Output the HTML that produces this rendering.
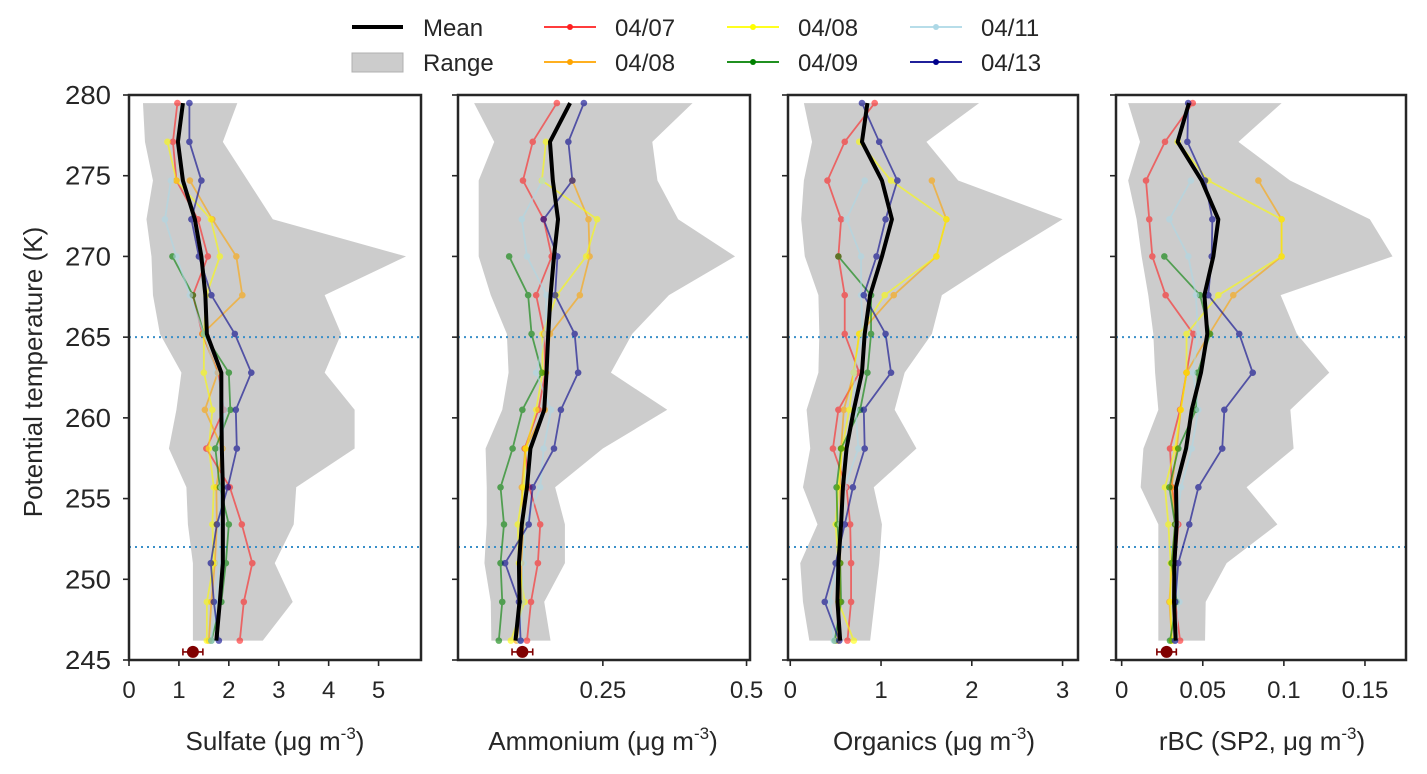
<!DOCTYPE html>
<html><head><meta charset="utf-8"><style>
html,body{margin:0;padding:0;background:#fff;}
svg{display:block;font-family:"Liberation Sans",sans-serif;}
</style></head><body>
<svg id="chart" width="1427" height="774" viewBox="0 0 1427 774" xmlns="http://www.w3.org/2000/svg">
<g id="legend">
  <g><line x1="352" y1="27" x2="403" y2="27" stroke="#000" stroke-width="4"/><text x="423" y="36" font-size="24" fill="#262626">Mean</text></g>
  <g><rect x="352" y="53" width="51" height="19" fill="#ccc" stroke="#b0b0b0"/><text x="423" y="71" font-size="24" fill="#262626">Range</text></g>
</g>
<g id="panels"></g>
</svg>
<script>
const theta = [279.5,277.1,274.7,272.3,270.0,267.6,265.2,262.8,260.5,258.1,255.7,253.4,251.0,248.6,246.2];
const seriesNames = ["04/07","04/08","04/08","04/09","04/11","04/13"];
const seriesColors = ["#ff2020","#ffa500","#ffff00","#008000","#add8e6","#00008b"];

const sulfateRed = [0.97,0.88,0.95,1.38,1.58,1.28,1.47,1.78,1.90,1.55,2.02,2.26,2.47,2.30,2.22];
const sulfateOrange = [null,null,1.22,1.67,2.15,2.27,1.47,1.78,1.52,1.87,1.75,1.76,1.72,1.65,1.60];
const sulfateYellow = [null,0.77,0.95,1.64,1.82,1.55,1.50,1.50,1.67,1.60,1.70,1.67,1.70,1.56,1.56];
const sulfateGreen = [null,null,null,null,0.87,1.28,1.50,2.00,2.03,1.73,1.82,2.00,1.94,1.85,1.65];
const sulfateLightblue = [null,null,0.84,0.72,0.95,1.22,1.50,1.75,1.92,1.85,1.85,1.80,1.80,1.75,1.65];
const sulfateNavy = [1.21,1.21,1.45,1.25,1.40,1.65,2.12,2.45,2.14,2.16,1.98,1.76,1.64,1.70,1.80];
const sulfateMean = [1.08,0.98,1.08,1.32,1.45,1.53,1.56,1.85,1.85,1.86,1.88,1.88,1.88,1.82,1.75];
const sulfateMin = [0.28,0.32,0.48,0.35,0.45,0.48,0.62,1.05,0.95,0.80,1.15,1.18,1.28,1.28,1.28];
const sulfateMax = [2.17,1.88,2.38,2.88,5.55,3.92,4.25,3.92,4.52,4.52,3.35,3.30,2.92,3.28,2.68];
const sulfateRef = [1.28,0.2];

const ammRed = [0.170,0.128,0.111,0.147,0.161,0.134,0.148,0.150,0.138,0.114,0.122,0.141,0.137,0.125,0.118];
const ammOrange = [null,null,0.197,0.225,0.227,0.210,0.158,0.151,0.149,0.115,0.109,0.112,0.108,0.110,0.100];
const ammYellow = [null,0.151,0.144,0.240,0.221,0.170,0.145,0.145,0.134,0.116,0.112,0.102,0.104,0.114,0.090];
const ammGreen = [null,null,null,null,0.087,0.120,0.126,0.144,0.110,0.093,0.072,0.078,0.072,0.075,0.069];
const ammLightblue = [null,null,0.145,0.109,0.118,0.152,0.150,0.134,0.160,0.147,0.141,0.115,0.112,0.110,0.105];
const ammNavy = [0.217,0.190,0.197,0.147,0.171,0.167,0.201,0.207,0.177,0.165,0.128,0.121,0.080,0.104,0.107];
const ammMean = [0.193,0.158,0.163,0.172,0.165,0.159,0.155,0.152,0.148,0.124,0.118,0.109,0.104,0.105,0.098];
const ammMin = [0.026,0.061,0.034,0.034,0.034,0.055,0.083,0.086,0.075,0.046,0.048,0.048,0.044,0.055,0.056];
const ammMax = [0.406,0.336,0.345,0.381,0.480,0.365,0.301,0.264,0.362,0.250,0.167,0.184,0.184,0.148,0.159];
const ammRef = [0.110,0.018];

const orgRed = [0.93,0.60,0.41,0.56,0.53,0.60,0.60,0.76,0.53,0.47,0.62,0.66,0.67,0.67,0.63];
const orgOrange = [null,null,1.56,1.72,1.61,1.14,0.76,0.70,0.59,0.56,0.55,0.55,0.55,0.55,0.52];
const orgYellow = [null,0.76,1.11,1.72,1.61,1.04,0.76,0.70,0.65,0.57,0.53,0.50,0.53,0.53,0.70];
const orgGreen = [null,null,null,null,0.53,0.89,0.89,0.85,0.77,0.56,0.51,0.52,0.55,0.56,0.49];
const orgLightblue = [null,null,0.82,0.62,0.78,0.78,0.80,0.70,0.72,0.75,0.60,0.55,0.52,0.44,0.48];
const orgNavy = [0.79,0.98,1.18,1.05,0.95,0.81,1.05,1.11,0.81,0.82,0.69,0.60,0.50,0.38,0.54];
const orgMean = [0.85,0.79,1.01,1.12,1.01,0.88,0.82,0.79,0.70,0.62,0.58,0.56,0.53,0.52,0.55];
const orgMin = [0.15,0.24,0.15,0.12,0.16,0.31,0.32,0.31,0.18,0.22,0.14,0.30,0.11,0.14,0.21];
const orgMax = [2.08,1.50,1.85,3.00,2.33,1.67,1.56,1.26,1.15,1.39,0.92,1.01,0.98,0.93,0.88];

const bcRed = [0.0438,0.0267,0.015,0.017,0.0189,0.0271,0.0442,0.040,0.036,0.0298,0.031,0.0349,0.033,0.033,0.036];
const bcOrange = [null,null,0.0843,0.0986,0.0986,0.0688,0.054,0.040,0.0364,0.034,0.0308,0.033,0.031,0.0294,0.031];
const bcYellow = [null,0.0345,0.0534,0.0986,0.0986,0.0596,0.040,0.040,0.0364,0.033,0.0267,0.0288,0.0302,0.030,0.031];
const bcGreen = [null,null,null,null,0.0263,0.0483,0.0545,0.0469,0.0458,0.0349,0.0294,0.0329,0.0308,0.0339,0.0298];
const bcLightblue = [null,null,0.0427,0.0294,0.0411,0.0458,0.047,0.044,0.0473,0.0432,0.0366,0.034,0.033,0.0356,0.033];
const bcNavy = [0.041,0.0405,0.0514,0.0559,0.0555,0.0534,0.0725,0.0808,0.0633,0.062,0.0473,0.0417,0.0349,0.033,0.0329];
const bcMean = [0.0415,0.0345,0.0493,0.0596,0.0565,0.051,0.0528,0.0489,0.0432,0.0397,0.0335,0.0339,0.0325,0.0323,0.0333];
const bcMin = [0.004,0.0113,0.004,0.0092,0.0123,0.0164,0.0195,0.0206,0.0226,0.0134,0.0117,0.0226,0.0226,0.0226,0.0226];
const bcMax = [0.0986,0.072,0.1038,0.153,0.167,0.098,0.108,0.128,0.104,0.106,0.077,0.096,0.0647,0.0518,0.0514];
const bcRef = [0.0277,0.006];

const yTicks = [245,250,255,260,265,270,275,280];
const dottedLevels = [265,252];
const refTheta = 245.5;

const NS = "http://www.w3.org/2000/svg";
const Y0 = 95, Y1 = 660, TMIN = 245, TMAX = 280;
function yScale(t){ return Y1 - (t - TMIN) / (TMAX - TMIN) * (Y1 - Y0); }
function mk(tag, attrs, parent){ const e=document.createElementNS(NS,tag); for(const k in attrs) e.setAttribute(k,attrs[k]); if(parent) parent.appendChild(e); return e; }

const panels = [
 {key:"sulfate", left:129, right:421, dmin:0, dmax:5.85, ticks:[0,1,2,3,4,5], tickLabels:["0","1","2","3","4","5"], title:"Sulfate (μg m", titleX:275, series:[sulfateRed,sulfateOrange,sulfateYellow,sulfateGreen,sulfateLightblue,sulfateNavy], mean:sulfateMean, min:sulfateMin, max:sulfateMax, ref:sulfateRef, yLabels:true},
 {key:"ammonium", left:458, right:750, dmin:-0.002, dmax:0.506, ticks:[0.25,0.5], tickLabels:["0.25","0.5"], title:"Ammonium (μg m", titleX:603, series:[ammRed,ammOrange,ammYellow,ammGreen,ammLightblue,ammNavy], mean:ammMean, min:ammMin, max:ammMax, ref:ammRef, yLabels:false},
 {key:"organics", left:788, right:1078, dmin:-0.025, dmax:3.17, ticks:[0,1,2,3], tickLabels:["0","1","2","3"], title:"Organics (μg m", titleX:934, series:[orgRed,orgOrange,orgYellow,orgGreen,orgLightblue,orgNavy], mean:orgMean, min:orgMin, max:orgMax, ref:null, yLabels:false},
 {key:"rbc", left:1116, right:1406, dmin:-0.0035, dmax:0.1753, ticks:[0,0.05,0.1,0.15], tickLabels:["0","0.05","0.1","0.15"], title:"rBC (SP2, μg m", titleX:1262, series:[bcRed,bcOrange,bcYellow,bcGreen,bcLightblue,bcNavy], mean:bcMean, min:bcMin, max:bcMax, ref:bcRef, yLabels:false}
];

const root = document.getElementById("panels");
panels.forEach(p => {
  const xs = v => p.left + (v - p.dmin) / (p.dmax - p.dmin) * (p.right - p.left);
  const g = mk("g", {}, root);
  
  
  let pts = [];
  theta.forEach((t,i)=>pts.push(xs(p.min[i])+","+yScale(t)));
  for(let i=theta.length-1;i>=0;i--) pts.push(xs(p.max[i])+","+yScale(theta[i]));
  const poly = mk("polygon", {points:pts.join(" "), fill:"#cccccc"}, g);
  
  
  dottedLevels.forEach(t=>{
    const l = mk("line",{x1:p.left,x2:p.right,y1:yScale(t),y2:yScale(t),stroke:"#3a8fc8","stroke-width":2,"stroke-dasharray":"2,4"},g);
    
    
  });
  p.series.forEach((s,si)=>{
    const sg = mk("g",{opacity:0.6},g);
    
    
    const pp = [];
    s.forEach((v,i)=>{ if(v!==null) pp.push(xs(v)+","+yScale(theta[i])); });
    mk("polyline",{points:pp.join(" "),fill:"none",stroke:seriesColors[si],"stroke-width":1.8},sg);
    s.forEach((v,i)=>{ if(v!==null){
      const c = mk("circle",{cx:xs(v),cy:yScale(theta[i]),r:3.3,fill:seriesColors[si]},sg);
      
      
    }});
  });
  const mp = p.mean.map((v,i)=>xs(v)+","+yScale(theta[i])).join(" ");
  const ml = mk("polyline",{points:mp,fill:"none",stroke:"#000","stroke-width":4,"stroke-linejoin":"round"},g);
  
  
  if(p.ref){
    const rg = mk("g",{},g);
    
    
    const y = yScale(refTheta), x0 = xs(p.ref[0]-p.ref[1]), x1 = xs(p.ref[0]+p.ref[1]);
    mk("line",{x1:x0,x2:x1,y1:y,y2:y,stroke:"#800000","stroke-width":1.6},rg);
    mk("line",{x1:x0,x2:x0,y1:y-3.5,y2:y+3.5,stroke:"#800000","stroke-width":1.6},rg);
    mk("line",{x1:x1,x2:x1,y1:y-3.5,y2:y+3.5,stroke:"#800000","stroke-width":1.6},rg);
    mk("circle",{cx:xs(p.ref[0]),cy:y,r:6,fill:"#800000"},rg);
  }
  const fr = mk("rect",{x:p.left,y:Y0,width:p.right-p.left,height:Y1-Y0,fill:"none",stroke:"#262626","stroke-width":2.5},g);
  
  
  yTicks.forEach(t=>{
    mk("line",{x1:p.left-6,x2:p.left,y1:yScale(t),y2:yScale(t),stroke:"#262626","stroke-width":1.6},g);
    if(p.yLabels){
      const tx = mk("text",{x:p.left-18,y:yScale(t)+9,"font-size":26,"text-anchor":"end",fill:"#262626",textLength:46,lengthAdjust:"spacingAndGlyphs"},g);
      tx.textContent = t;
      
      
    }
  });
  p.ticks.forEach((v,i)=>{
    mk("line",{x1:xs(v),x2:xs(v),y1:Y1,y2:Y1+6,stroke:"#262626","stroke-width":1.6},g);
    const tx = mk("text",{x:xs(v),y:698,"font-size":24,"text-anchor":"middle",fill:"#262626"},g);
    tx.textContent = p.tickLabels[i];
    
    
  });
  const tt = mk("text",{x:p.titleX,y:750,"font-size":26,"text-anchor":"middle",fill:"#262626"},g);
  tt.textContent = p.title;
  mk("tspan",{dy:-11,"font-size":17},tt).textContent="-3";
  mk("tspan",{dy:11},tt).textContent=")";
  
  
});
const yt = mk("text",{x:0,y:0,"font-size":26,"text-anchor":"middle",fill:"#262626",transform:"translate(42,372) rotate(-90)"},document.getElementById("chart"));
yt.textContent = "Potential temperature (K)";


const leg = document.getElementById("legend");
const legX = [544,544,727,727,910,910], legY = [27,62,27,62,27,62];
seriesNames.forEach((n,i)=>{
  const lg = mk("g",{},leg);
  
  
  mk("line",{x1:legX[i],x2:legX[i]+52,y1:legY[i],y2:legY[i],stroke:seriesColors[i],"stroke-width":1.8},lg);
  mk("circle",{cx:legX[i]+26,cy:legY[i],r:3,fill:seriesColors[i]},lg);
  mk("text",{x:legX[i]+71,y:legY[i]+9,"font-size":24,fill:"#262626"},lg).textContent = n;
});
</script>
</body></html>
